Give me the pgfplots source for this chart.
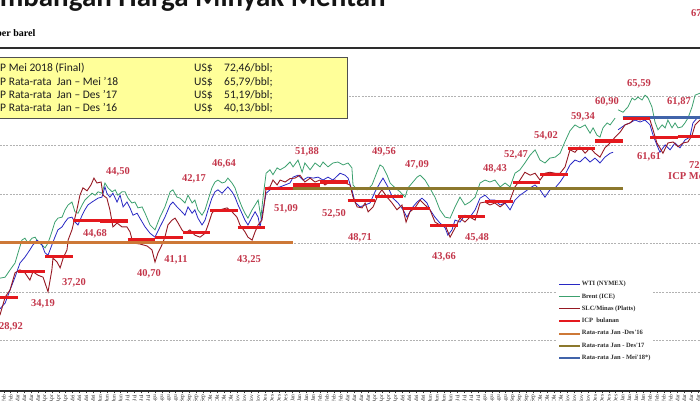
\documentclass[border=0pt]{standalone}
\usepackage{fontspec}
\setmainfont{Carlito}
\newfontfamily\tnr{Liberation Serif}
\usepackage{pgfplots}
\pgfplotsset{compat=1.18}

\definecolor{wti}{RGB}{40,40,195}
\definecolor{brent}{RGB}{60,160,110}
\definecolor{slc}{RGB}{150,25,35}
\definecolor{icp}{RGB}{228,25,30}
\definecolor{avgA}{RGB}{205,120,55}
\definecolor{avgB}{RGB}{140,120,45}
\definecolor{avgC}{RGB}{65,100,170}
\definecolor{labred}{RGB}{195,55,75}
\definecolor{boxyellow}{RGB}{255,255,153}
\definecolor{axisdark}{RGB}{45,45,45}

\newcommand\monname[1]{\ifcase#1 Jan\or Feb\or Mar\or Apr\or Mei\or Jun\or Jul\or Agu\or Sep\or Okt\or Nov\or Des\fi}
\newcommand\lab[3]{\node[text=labred, font=\tnr\bfseries\fontsize{10.5}{12}\selectfont, inner sep=0pt] at (#1,#2) {#3};}

\begin{document}
\begin{tikzpicture}
\useasboundingbox (0pt,0pt) rectangle (700pt,400pt);

\begin{axis}[
  at={(0pt,9.1pt)}, anchor=south west,
  width=700pt, height=343.1pt, scale only axis,
  xmin=1.3636, xmax=26.818, ymin=9.7, ymax=80,
  axis line style={draw=none},
  unbounded coords=jump,
  ytick={20,30,40,50,60,70}, yticklabels={},
  ytick style={draw=none},
  ymajorgrids, grid style={gray!60, line width=0.6pt, dash pattern=on 2pt off 1.2pt},
  xtick distance=0.25, xtick pos=left, xtick align=outside,
  major tick length=2.5pt,
  xtick style={axisdark, line width=0.5pt},
  xticklabel={\pgfmathtruncatemacro\tkm{floor(\tick+0.001)}\pgfmathtruncatemacro\tkmm{mod(\tkm,12)}\pgfmathtruncatemacro\tkd{1+round(28*(\tick-\tkm))}\tkd-\monname{\tkmm}},
  xticklabel style={rotate=90, anchor=east, inner sep=1pt, text=axisdark, font=\tnr\fontsize{5.5}{6}\selectfont},
  legend style={at={(rel axis cs:0.794,0.328)}, anchor=north west, draw=none, fill=white,
    font=\tnr\bfseries\fontsize{6.5}{7}\selectfont, text=axisdark,
    row sep=4.7pt, inner xsep=2pt, inner ysep=2pt, nodes={inner sep=0.8pt}},
  legend cell align=left,
  legend image code/.code={\draw[#1] (0pt,0pt) -- (21pt,0pt);},
]

% Brent (ICE)
\addplot[brent, line width=0.8pt, forget plot] coordinates {
(1.36,32.8) (1.55,33.0) (1.73,34.5) (1.91,35.9) (2.02,38.0) (2.16,40.6) (2.27,41.0) (2.38,40.0) (2.53,41.0) (2.64,41.2)
(2.75,40.2) (2.89,39.6) (3.00,39.0) (3.11,40.0) (3.25,42.3) (3.36,44.3) (3.47,45.1) (3.62,45.3) (3.73,46.8) (3.84,47.8)
(3.98,48.4) (4.09,46.4) (4.20,46.1) (4.35,47.8) (4.45,48.8) (4.56,49.4) (4.71,50.2) (4.82,49.8) (4.93,50.5) (5.07,50.2)
(5.18,52.3) (5.29,51.3) (5.44,50.5) (5.55,50.9) (5.65,49.8) (5.80,50.5) (5.91,50.5) (6.02,49.2) (6.16,48.2) (6.27,48.4)
(6.38,47.2) (6.53,47.4) (6.64,46.1) (6.82,43.7) (7.00,42.7) (7.18,45.3) (7.36,47.4) (7.55,50.5) (7.65,50.9) (7.80,49.4)
(7.91,49.2) (8.09,48.2) (8.20,49.8) (8.35,48.2) (8.45,48.8) (8.56,46.8) (8.71,45.7) (8.82,46.8) (8.93,48.8) (9.07,51.3)
(9.18,52.5) (9.29,52.9) (9.44,52.3) (9.55,52.5) (9.65,53.3) (9.80,52.3) (9.91,51.3) (10.02,49.4) (10.16,47.4) (10.27,46.1)
(10.38,45.1) (10.53,46.8) (10.64,47.8) (10.75,48.8) (10.85,45.3) (10.93,49.4) (11.04,54.3) (11.18,55.0) (11.29,54.0) (11.44,55.4)
(11.55,55.0) (11.73,55.6) (11.91,56.6) (12.02,55.6) (12.20,57.0) (12.35,54.5) (12.45,56.4) (12.64,55.0) (12.82,56.4) (13.00,55.6)
(13.11,56.6) (13.29,55.6) (13.47,56.4) (13.65,56.6) (13.84,56.0) (14.02,56.4) (14.16,55.4) (14.20,51.9) (14.35,50.9) (14.53,51.3)
(14.71,50.9) (14.89,51.9) (15.07,54.5) (15.18,56.0) (15.29,55.6) (15.44,53.9) (15.55,52.3) (15.73,51.3) (15.91,50.5) (16.09,49.4)
(16.20,51.3) (16.38,52.5) (16.53,53.5) (16.64,53.9) (16.82,52.9) (17.00,51.2) (17.18,49.4) (17.36,46.8) (17.55,45.3) (17.73,45.1)
(17.91,47.4) (18.09,49.4) (18.27,47.8) (18.45,48.4) (18.64,49.4) (18.82,52.3) (19.00,52.9) (19.18,52.5) (19.36,52.9) (19.55,51.5)
(19.73,52.3) (19.91,51.5) (20.09,54.3) (20.27,55.0) (20.45,56.4) (20.64,58.0) (20.82,59.1) (21.00,57.0) (21.18,56.4) (21.36,57.4)
(21.55,57.6) (21.73,58.4) (21.91,60.8) (22.09,63.0) (22.27,64.2) (22.45,63.6) (22.64,64.2) (22.82,62.5) (22.93,63.6) (23.07,62.1)
(23.18,61.7) (23.29,63.6) (23.44,64.6) (23.55,64.2) (23.73,65.6) (23.78,nan)
(23.84,67.3) (24.02,66.8) (24.20,67.9) (24.35,69.7) (24.45,69.3) (24.56,69.9) (24.71,69.3) (24.82,70.3) (24.93,69.7) (25.07,67.9)
(25.18,64.8) (25.29,63.2) (25.44,64.2) (25.55,63.6) (25.65,65.2) (25.80,63.6) (25.91,64.6) (26.02,63.6) (26.16,63.8) (26.27,64.6)
(26.38,65.6) (26.53,67.9) (26.64,70.3) (26.82,70.7)
};

% WTI (NYMEX)
\addplot[wti, line width=0.8pt, forget plot] coordinates {
(1.36,26.5) (1.55,27.7) (1.73,30.4) (1.91,33.0) (2.09,35.9) (2.27,37.1) (2.45,38.6) (2.56,39.6) (2.71,40.6) (2.89,39.6)
(3.00,38.0) (3.11,37.5) (3.25,39.6) (3.36,41.2) (3.47,42.7) (3.62,43.3) (3.73,44.3) (3.84,45.1) (3.98,45.3) (4.09,44.3)
(4.20,43.7) (4.35,45.7) (4.45,46.8) (4.56,47.8) (4.71,48.4) (4.82,48.8) (4.93,49.2) (5.07,49.4) (5.18,51.5) (5.25,50.2)
(5.36,49.4) (5.47,50.2) (5.62,48.4) (5.73,49.8) (5.84,47.4) (5.98,48.4) (6.09,47.2) (6.20,45.7) (6.35,46.1) (6.45,45.1)
(6.64,43.3) (6.82,42.0) (7.00,41.2) (7.18,43.3) (7.36,45.3) (7.55,47.8) (7.65,48.4) (7.80,47.4) (7.91,46.8) (8.09,45.7)
(8.20,47.4) (8.35,46.1) (8.45,46.8) (8.56,45.1) (8.71,43.7) (8.82,44.7) (8.93,46.8) (9.07,49.2) (9.18,50.5) (9.29,50.9)
(9.44,50.2) (9.55,50.9) (9.65,51.5) (9.80,50.5) (9.91,49.4) (10.02,47.8) (10.16,46.1) (10.27,44.7) (10.38,43.7) (10.53,45.3)
(10.64,46.4) (10.75,45.3) (10.82,43.3) (10.93,46.8) (11.04,50.2) (11.18,50.9) (11.36,51.3) (11.55,51.5) (11.73,51.9) (11.91,52.3)
(12.02,53.5) (12.20,53.9) (12.38,52.9) (12.56,53.5) (12.75,53.3) (12.93,53.5) (13.11,52.9) (13.29,53.5) (13.47,52.9) (13.73,54.3)
(13.91,53.9) (14.02,53.3) (14.16,50.9) (14.27,48.4) (14.45,47.4) (14.64,47.8) (14.82,48.2) (15.00,50.5) (15.18,52.3) (15.29,53.3)
(15.47,51.5) (15.65,49.2) (15.84,48.2) (16.02,46.8) (16.16,45.3) (16.35,47.2) (16.53,48.4) (16.71,49.2) (16.89,48.2) (17.00,46.8)
(17.18,45.3) (17.36,44.1) (17.55,43.1) (17.65,41.6) (17.80,42.7) (17.91,44.7) (18.09,44.3) (18.27,45.7) (18.45,45.3) (18.64,46.8)
(18.82,49.2) (19.00,49.8) (19.18,48.8) (19.36,48.8) (19.55,47.8) (19.73,48.2) (19.91,46.8) (20.09,48.8) (20.27,49.8) (20.45,50.5)
(20.64,51.3) (20.82,51.9) (21.00,50.9) (21.18,49.4) (21.36,50.9) (21.55,51.3) (21.73,52.5) (21.91,54.0) (22.09,56.0) (22.27,57.0)
(22.45,56.6) (22.64,57.6) (22.82,56.6) (23.00,57.4) (23.18,56.4) (23.36,57.6) (23.55,58.4) (23.66,58.6) (23.75,nan)
(23.84,63.2) (24.09,64.2) (24.27,64.6) (24.45,65.2) (24.64,64.8) (24.82,65.2) (25.00,64.2) (25.11,62.1) (25.25,60.1) (25.36,58.6)
(25.55,60.1) (25.73,59.1) (25.91,60.5) (26.09,59.5) (26.27,61.1) (26.45,61.7) (26.56,64.6) (26.71,65.6) (26.82,66.0)
};

% SLC/Minas (Platts)
\addplot[slc, line width=0.9pt, forget plot] coordinates {
(1.36,25.2) (1.55,28.9) (1.73,30.4) (1.91,33.9) (2.09,34.5) (2.27,33.9) (2.45,32.4) (2.56,34.1) (2.75,33.4) (2.93,33.0)
(3.11,30.0) (3.25,34.5) (3.29,36.9) (3.44,36.1) (3.55,34.9) (3.66,36.9) (3.80,38.6) (3.84,40.6) (3.98,42.7) (4.16,46.8)
(4.27,49.8) (4.38,51.3) (4.53,50.7) (4.67,51.9) (4.78,53.3) (4.89,52.3) (5.04,52.5) (5.11,49.8) (5.25,49.2) (5.36,46.8)
(5.47,43.3) (5.62,44.1) (5.80,43.3) (5.98,43.3) (6.09,42.3) (6.20,40.0) (6.45,39.8) (6.71,39.4) (6.89,38.6) (7.00,36.1)
(7.11,38.0) (7.25,39.6) (7.36,41.2) (7.47,43.7) (7.62,44.7) (7.73,45.1) (7.84,44.1) (7.98,42.7) (8.09,42.0) (8.27,42.7)
(8.45,41.6) (8.64,41.2) (8.82,42.0) (8.93,43.7) (9.07,46.1) (9.18,46.8) (9.36,46.8) (9.62,47.2) (9.80,46.4) (9.98,45.3)
(10.09,43.7) (10.27,42.3) (10.38,41.2) (10.53,40.6) (10.64,42.3) (10.75,43.7) (10.89,44.7) (10.96,47.4) (11.04,51.3) (11.18,51.5)
(11.29,52.9) (11.44,51.9) (11.55,52.9) (11.73,52.5) (11.91,53.2) (12.09,53.3) (12.27,53.9) (12.45,52.5) (12.64,53.3) (12.82,52.5)
(13.00,52.9) (13.18,51.9) (13.36,52.5) (13.55,52.9) (13.73,52.5) (13.91,52.3) (14.09,51.9) (14.20,49.4) (14.35,47.4) (14.53,47.2)
(14.64,48.2) (14.75,46.4) (14.93,47.4) (15.11,49.8) (15.25,50.9) (15.44,49.4) (15.62,48.2) (15.80,46.8) (15.98,47.8) (16.13,44.3)
(16.27,46.4) (16.45,47.2) (16.64,48.8) (16.82,47.8) (17.00,46.8) (17.18,44.3) (17.36,43.7) (17.55,43.7) (17.73,41.2) (17.91,43.1)
(18.09,45.1) (18.27,44.3) (18.45,45.3) (18.64,44.7) (18.82,48.2) (19.00,48.4) (19.18,47.8) (19.36,48.2) (19.55,47.4) (19.73,48.2)
(19.91,48.8) (20.09,51.5) (20.27,52.9) (20.45,54.5) (20.64,53.9) (20.82,54.3) (21.00,52.9) (21.18,54.3) (21.36,54.5) (21.55,54.3)
(21.73,54.3) (21.91,55.6) (22.09,59.1) (22.27,58.6) (22.45,59.7) (22.64,58.4) (22.82,59.5) (23.00,58.4) (23.18,57.6) (23.36,59.5)
(23.55,60.5) (23.73,61.7) (23.91,62.7) (24.09,64.2) (24.27,64.6) (24.45,65.6) (24.64,65.2) (24.82,65.8) (25.00,65.2) (25.11,63.2)
(25.25,60.5) (25.36,59.5) (25.47,58.4) (25.65,60.5) (25.84,60.7) (26.02,59.7) (26.20,60.5) (26.38,60.7) (26.53,62.1) (26.64,64.2)
(26.82,65.2)
};

% yearly averages
\addplot[avgA, line width=2.8pt, forget plot] coordinates {(0,40.13) (12,40.13)};
\addplot[avgB, line width=2.8pt, forget plot] coordinates {(12,51.19) (24,51.19)};
\addplot[avgC, line width=2.8pt, forget plot] coordinates {(24,65.79) (29,65.79)};

% ICP bulanan
\addplot[icp, line width=3.2pt, forget plot] coordinates {
(0,27.49) (1,27.49) (1,nan)
(1,28.92) (2,28.92) (2,nan) (2,34.19) (3,34.19) (3,nan) (3,37.20) (4,37.20) (4,nan)
(4,44.68) (5,44.68) (5,nan) (5,44.50) (6,44.50) (6,nan) (6,40.70) (7,40.70) (7,nan)
(7,41.11) (8,41.11) (8,nan) (8,42.17) (9,42.17) (9,nan) (9,46.64) (10,46.64) (10,nan)
(10,43.25) (11,43.25) (11,nan) (11,51.09) (12,51.09) (12,nan) (12,51.88) (13,51.88) (13,nan)
(13,52.50) (14,52.50) (14,nan) (14,48.71) (15,48.71) (15,nan) (15,49.56) (16,49.56) (16,nan)
(16,47.09) (17,47.09) (17,nan) (17,43.66) (18,43.66) (18,nan) (18,45.48) (19,45.48) (19,nan)
(19,48.43) (20,48.43) (20,nan) (20,52.47) (21,52.47) (21,nan) (21,54.02) (22,54.02) (22,nan)
(22,59.34) (23,59.34) (23,nan) (23,60.90) (24,60.90) (24,nan) (24,65.59) (25,65.59) (25,nan)
(25,61.61) (26,61.61) (26,nan) (26,61.87) (27,61.87) (27,nan) (27,67.43) (28,67.43) (28,nan)
(28,72.46) (29,72.46)
};

\addlegendimage{wti, line width=1pt}\addlegendentry{WTI (NYMEX)}
\addlegendimage{brent, line width=1pt}\addlegendentry{Brent (ICE)}
\addlegendimage{slc, line width=1pt}\addlegendentry{SLC/Minas (Platts)}
\addlegendimage{icp, line width=2pt}\addlegendentry{ICP\ \ bulanan}
\addlegendimage{avgA, line width=2pt}\addlegendentry{Rata-rata Jan -Des'16}
\addlegendimage{avgB, line width=2pt}\addlegendentry{Rata-rata Jan - Des'17}
\addlegendimage{avgC, line width=2pt}\addlegendentry{Rata-rata Jan - Mei'18*)}
\end{axis}

\begin{scope}[x=1pt,y=-1pt,shift={(0pt,400pt)}]
% frame lines
\draw[axisdark, line width=1.5pt] (-5,47.8) -- (705,47.8);
\draw[axisdark, line width=1.6pt] (-5,390.9) -- (705,390.9);

% title
\node[anchor=base west, inner sep=0pt, text={rgb,255:red,20;green,20;blue,20}, font=\bfseries\fontsize{29}{30}\selectfont] at (-68,7) {Perkembangan Harga Minyak Mentah};
\node[anchor=base east, inner sep=0pt, font=\tnr\bfseries\fontsize{10}{11}\selectfont] at (35.5,36.5) {US\$ per barel};

% info box
\draw[draw={rgb,255:red,80;green,80;blue,80}, fill=boxyellow, line width=0.8pt] (-5,57) rectangle (347,118);
\begin{scope}[every node/.style={anchor=base west, inner sep=0pt, font=\fontsize{11.5}{13}\selectfont, text={rgb,255:red,30;green,30;blue,30}}]
\node at (-9,71.5) {ICP Mei 2018 (Final)};
\node at (194,71.5) {US\$}; \node at (224,71.5) {72,46/bbl;};
\node at (-9,85) {ICP Rata-rata\ \ Jan – Mei ’18};
\node at (194,85) {US\$}; \node at (224,85) {65,79/bbl;};
\node at (-9,98.3) {ICP Rata-rata\ \ Jan – Des ’17};
\node at (194,98.3) {US\$}; \node at (224,98.3) {51,19/bbl;};
\node at (-9,111.7) {ICP Rata-rata\ \ Jan – Des ’16};
\node at (194,111.7) {US\$}; \node at (224,111.7) {40,13/bbl;};
\end{scope}

% ICP value labels
\lab{11}{327}{28,92}
\lab{43}{304}{34,19}
\lab{74}{283}{37,20}
\lab{95}{234}{44,68}
\lab{118}{172}{44,50}
\lab{149}{274}{40,70}
\lab{176}{260}{41,11}
\lab{194}{179}{42,17}
\lab{224}{164}{46,64}
\lab{249}{260}{43,25}
\lab{286}{209}{51,09}
\lab{307}{152}{51,88}
\lab{334}{214}{52,50}
\lab{360}{238}{48,71}
\lab{384}{152}{49,56}
\lab{417}{165}{47,09}
\lab{444}{257}{43,66}
\lab{477}{238}{45,48}
\lab{495}{169}{48,43}
\lab{516}{155}{52,47}
\lab{546}{136}{54,02}
\lab{583}{117}{59,34}
\lab{607}{102}{60,90}
\lab{639}{84}{65,59}
\lab{679}{102}{61,87}
\lab{649}{157}{61,61}
\lab{701}{166}{72,46}
\lab{703}{14}{67,43}
\node[anchor=west, inner sep=0pt, text=labred, font=\tnr\bfseries\fontsize{10.5}{12}\selectfont] at (668,176) {ICP Mei 2018};
\end{scope}
\end{tikzpicture}
\end{document}
